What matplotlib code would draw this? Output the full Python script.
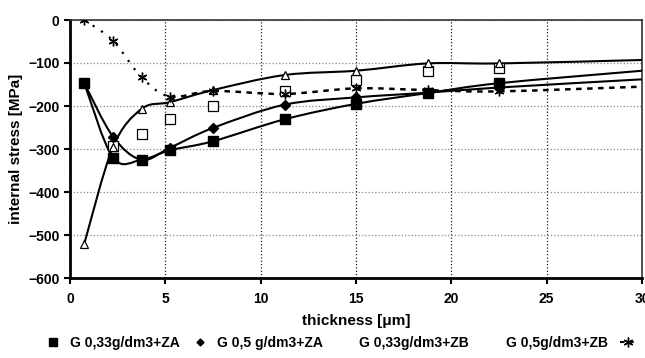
import matplotlib

matplotlib.use("Agg")
import matplotlib.pyplot as plt  # noqa: E402
from matplotlib.lines import Line2D  # noqa: E402
from matplotlib.patches import PathPatch  # noqa: E402
from matplotlib.path import Path  # noqa: E402

plt.rcParams["font.family"] = ["Liberation Sans", "DejaVu Sans"]
plt.rcParams["font.weight"] = "bold"

# thickness [um]
thick = [0.75, 2.25, 3.75, 5.25, 7.5, 11.25, 15, 18.75, 22.5, 30]

# internal stress [MPa]
za_033 = [-147, -320, -325, -303, -282, -231, -195, -170, -147, -118]
za_05 = [-147, -271, -325, -297, -251, -197, -180, -169, -157, -138]
zb_033 = [None, -294, -266, -231, -199, -166, -139, -118, -112, None]
zb_05 = [-520, -296, -207, -191, -163, -128, -118, -101, -101, -93]
n_ser = [0, -48, -133, -178, -165, -172, -159, -163, -166, -155]


def smooth_path(xs, ys):
    """Excel-like smoothed line (Catmull-Rom -> cubic bezier)."""
    pts = list(zip(xs, ys))
    verts = [pts[0]]
    codes = [Path.MOVETO]
    n = len(pts)
    for i in range(n - 1):
        p0 = pts[max(i - 1, 0)]
        p1 = pts[i]
        p2 = pts[i + 1]
        p3 = pts[min(i + 2, n - 1)]
        c1 = (p1[0] + (p2[0] - p0[0]) / 6, p1[1] + (p2[1] - p0[1]) / 6)
        c2 = (p2[0] - (p3[0] - p1[0]) / 6, p2[1] - (p3[1] - p1[1]) / 6)
        verts += [c1, c2, p2]
        codes += [Path.CURVE4] * 3
    return verts, codes


def seg_path(verts, codes, i0, i1):
    """part of a smoothed path between data index i0 and i1."""
    v = verts[3 * i0: 3 * i1 + 1]
    c = [Path.MOVETO] + codes[3 * i0 + 1: 3 * i1 + 1]
    return Path(v, c)


fig = plt.figure(figsize=(6.45, 3.58), dpi=100)
ax = fig.add_axes([70 / 645, 1 - 278 / 358, 572 / 645, 258 / 358])

# smoothed solid lines
for ys in (za_033, za_05, zb_05):
    v, c = smooth_path(thick, ys)
    ax.add_patch(PathPatch(Path(v, c), fill=False, ec="black", lw=1.5, zorder=3))

# N series: dotted start, then dashed
v, c = smooth_path(thick, n_ser)
ax.add_patch(PathPatch(seg_path(v, c, 0, 3), fill=False, ec="black", lw=1.6,
                       ls=(0, (1, 3.5)), zorder=3))
ax.add_patch(PathPatch(seg_path(v, c, 3, len(thick) - 1), fill=False, ec="black",
                       lw=1.8, ls=(0, (2.2, 2.2)), zorder=3))


def pts(ys):
    xy = [(x, y) for x, y in zip(thick, ys) if y is not None and x < 30]
    return [p[0] for p in xy], [p[1] for p in xy]


ax.plot(*pts(zb_033), ls="none", marker="s", ms=6.5, mfc="white", mec="black",
        mew=0.9, zorder=4)
ax.plot(*pts(zb_05), ls="none", marker="^", ms=6, mfc="white", mec="black",
        mew=0.9, zorder=4)
ax.plot(*pts(n_ser), ls="none", marker=(6, 2, 0), ms=7, mec="black", mew=1.0,
        zorder=5)
ax.plot(*pts(za_05), ls="none", marker="D", ms=5, mfc="black", mec="black", zorder=5)
ax.plot(*pts(za_033), ls="none", marker="s", ms=7, mfc="black", mec="black", zorder=6)

ax.set_xlim(0, 30)
ax.set_ylim(-600, 0)
ax.set_xticks(range(0, 31, 5))
ax.set_yticks(range(-600, 1, 100))
ax.xaxis.grid(True, ls=":", color="#222222", lw=0.9)
ax.yaxis.grid(True, ls=":", color="#888888", lw=0.9)
ax.set_axisbelow(True)
for s in ("left", "bottom"):
    ax.spines[s].set_linewidth(2.0)
for s in ("top", "right"):
    ax.spines[s].set_linewidth(1.2)
    ax.spines[s].set_color("#333333")
ax.tick_params(axis="both", direction="out", length=4, width=1.5, labelsize=10)
ax.tick_params(axis="x", pad=6)
ax.set_xlabel("thickness [\u03bcm]", fontsize=11, fontweight="bold", labelpad=6)
ax.set_ylabel("internal stress [MPa]", fontsize=11, fontweight="bold", labelpad=4)

handles = [
    Line2D([], [], ls="none", marker="s", ms=6, color="black"),
    Line2D([], [], ls="none", marker="D", ms=3.5, color="black"),
    Line2D([], [], ls="none"),
    Line2D([], [], ls="none"),
    Line2D([], [], color="black", lw=1.5, ls=(0, (2.2, 2.2)), marker=(6, 2, 0),
           ms=7, mew=1.0),
]
labels = ["G 0,33g/dm3+ZA", "G 0,5 g/dm3+ZA", "G 0,33g/dm3+ZB",
          "G 0,5g/dm3+ZB", "N"]
fig.legend(handles, labels, loc="center left", bbox_to_anchor=(45 / 645, 1 - 343 / 358),
           ncol=5, frameon=False, fontsize=10, handlelength=1.2, handletextpad=0.6,
           columnspacing=0.85, borderaxespad=0, borderpad=0)

fig.savefig("out.png", dpi=100)
